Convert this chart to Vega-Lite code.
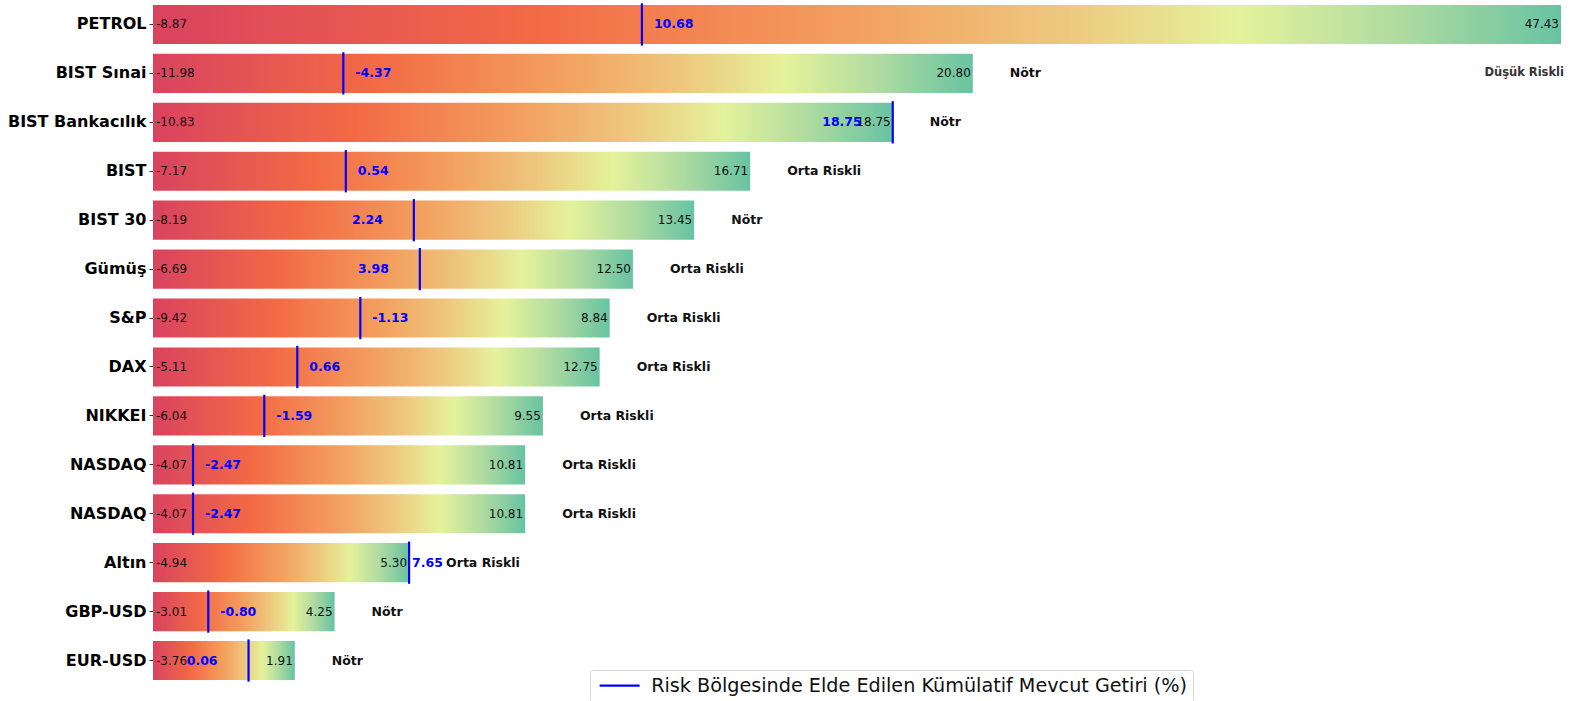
{
  "$schema": "https://vega.github.io/schema/vega-lite/v6.json",
  "autosize": "none",
  "width": 1408,
  "height": 685,
  "padding": {"left": 153, "top": 0, "right": 21, "bottom": 16},
  "config": {
    "font": "DejaVu Sans",
    "view": {"stroke": null}
  },
  "data": {
    "values": [
      {"name": "PETROL", "min": -8.87, "max": 47.43, "current": 10.68, "status": "Düşük Riskli"},
      {"name": "BIST Sınai", "min": -11.98, "max": 20.80, "current": -4.37, "status": "Nötr"},
      {"name": "BIST Bankacılık", "min": -10.83, "max": 18.75, "current": 18.75, "status": "Nötr"},
      {"name": "BIST", "min": -7.17, "max": 16.71, "current": 0.54, "status": "Orta Riskli"},
      {"name": "BIST 30", "min": -8.19, "max": 13.45, "current": 2.24, "status": "Nötr"},
      {"name": "Gümüş", "min": -6.69, "max": 12.50, "current": 3.98, "status": "Orta Riskli"},
      {"name": "S&P", "min": -9.42, "max": 8.84, "current": -1.13, "status": "Orta Riskli"},
      {"name": "DAX", "min": -5.11, "max": 12.75, "current": 0.66, "status": "Orta Riskli"},
      {"name": "NIKKEI", "min": -6.04, "max": 9.55, "current": -1.59, "status": "Orta Riskli"},
      {"name": "NASDAQ", "min": -4.07, "max": 10.81, "current": -2.47, "status": "Orta Riskli"},
      {"name": "NASDAQ\u200b", "min": -4.07, "max": 10.81, "current": -2.47, "status": "Orta Riskli"},
      {"name": "Altın", "min": -4.94, "max": 5.30, "current": 7.65, "status": "Orta Riskli"},
      {"name": "GBP-USD", "min": -3.01, "max": 4.25, "current": -0.80, "status": "Nötr"},
      {"name": "EUR-USD", "min": -3.76, "max": 1.91, "current": 0.06, "status": "Nötr"}
    ]
  },
  "transform": [
    {"calculate": "datum.max - datum.min", "as": "range"},
    {"calculate": "min(datum.current, datum.max) - datum.min", "as": "line_pos"},
    {"calculate": "replace(format(datum.min, '.2f'), '\u2212', '-')", "as": "min_txt"},
    {"calculate": "replace(format(datum.max, '.2f'), '\u2212', '-')", "as": "max_txt"},
    {"calculate": "replace(format(datum.current, '.2f'), '\u2212', '-')", "as": "cur_txt"}
  ],
  "encoding": {
    "y": {
      "field": "name",
      "type": "nominal",
      "sort": null,
      "scale": {"paddingInner": 0.2, "paddingOuter": 0.1},
      "axis": {
        "title": null,
        "domain": false,
        "ticks": true,
        "tickSize": 4,
        "tickColor": "#333",
        "labelPadding": 3,
        "labelFontSize": 16,
        "labelFontWeight": "bold",
        "labelColor": "#000"
      }
    }
  },
  "layer": [
    {
      "mark": {
        "type": "bar",
        "color": {
          "gradient": "linear",
          "x1": 0, "y1": 0, "x2": 1, "y2": 0,
          "stops": [
            {"offset": 0, "color": "#d9435f"},
            {"offset": 0.27, "color": "#f36a45"},
            {"offset": 0.5, "color": "#f3a05f"},
            {"offset": 0.64, "color": "#eec67d"},
            {"offset": 0.77, "color": "#e5f29b"},
            {"offset": 0.88, "color": "#b2dca0"},
            {"offset": 1, "color": "#68c3a2"}
          ]
        }
      },
      "encoding": {
        "x": {"field": "range", "type": "quantitative", "scale": {"domain": [0, 56.3], "nice": false}, "axis": null}
      }
    },
    {
      "mark": {"type": "rule", "strokeWidth": 2.2},
      "encoding": {
        "x": {"field": "line_pos", "type": "quantitative"},
        "y": {"field": "name", "type": "nominal", "sort": null, "bandPosition": -0.04},
        "y2": {"field": "name", "bandPosition": 1.04},
        "stroke": {
          "datum": "Risk Bölgesinde Elde Edilen Kümülatif Mevcut Getiri (%)",
          "type": "nominal",
          "scale": {"range": ["#0000ff"]},
          "legend": {
            "title": null,
            "orient": "none",
            "legendX": 437,
            "legendY": 670,
            "symbolType": "M-2.5,0H2.5",
            "symbolSize": 256,
            "symbolOffset": 14,
            "symbolStrokeWidth": 2.2,
            "labelFontSize": 19.2,
            "labelLimit": 0,
            "labelColor": "#111",
            "labelOffset": 22,
            "padding": 6,
            "strokeColor": "#d6d6d6",
            "fillColor": "#ffffff",
            "cornerRadius": 3
          }
        }
      }
    },
    {
      "mark": {"type": "text", "align": "left", "dx": 3, "fontSize": 12, "color": "#111"},
      "encoding": {
        "x": {"datum": 0, "type": "quantitative"},
        "text": {"field": "min_txt", "type": "nominal"}
      }
    },
    {
      "mark": {"type": "text", "align": "right", "dx": -2, "fontSize": 12, "color": "#111"},
      "encoding": {
        "x": {"field": "range", "type": "quantitative"},
        "text": {"field": "max_txt", "type": "nominal"}
      }
    },
    {
      "transform": [
        {"filter": "indexof(['BIST Bankacılık', 'BIST 30', 'Gümüş', 'EUR-USD', 'Altın'], datum.name) < 0"}
      ],
      "mark": {"type": "text", "align": "left", "dx": 12, "fontSize": 12.5, "fontWeight": "bold", "color": "#0000ff"},
      "encoding": {
        "x": {"field": "line_pos", "type": "quantitative"},
        "text": {"field": "cur_txt", "type": "nominal"}
      }
    },
    {
      "transform": [{"filter": "datum.name == 'Altın'"}],
      "mark": {"type": "text", "align": "left", "dx": 3, "fontSize": 12.5, "fontWeight": "bold", "color": "#0000ff"},
      "encoding": {
        "x": {"field": "line_pos", "type": "quantitative"},
        "text": {"field": "cur_txt", "type": "nominal"}
      }
    },
    {
      "transform": [
        {"filter": "indexof(['BIST Bankacılık', 'BIST 30', 'Gümüş', 'EUR-USD'], datum.name) >= 0"}
      ],
      "mark": {"type": "text", "align": "right", "dx": -31, "fontSize": 12.5, "fontWeight": "bold", "color": "#0000ff"},
      "encoding": {
        "x": {"field": "line_pos", "type": "quantitative"},
        "text": {"field": "cur_txt", "type": "nominal"}
      }
    },
    {
      "transform": [{"filter": "datum.name != 'PETROL'"}],
      "mark": {"type": "text", "align": "left", "dx": 37, "fontSize": 12.5, "fontWeight": "bold", "color": "#111"},
      "encoding": {
        "x": {"field": "range", "type": "quantitative"},
        "text": {"field": "status", "type": "nominal"}
      }
    },
    {
      "transform": [{"filter": "datum.name == 'PETROL'"}],
      "mark": {"type": "text", "align": "right", "dx": 3, "dy": 49, "fontSize": 11.5, "fontWeight": "bold", "color": "#333"},
      "encoding": {
        "x": {"field": "range", "type": "quantitative"},
        "text": {"field": "status", "type": "nominal"}
      }
    }
  ]
}
